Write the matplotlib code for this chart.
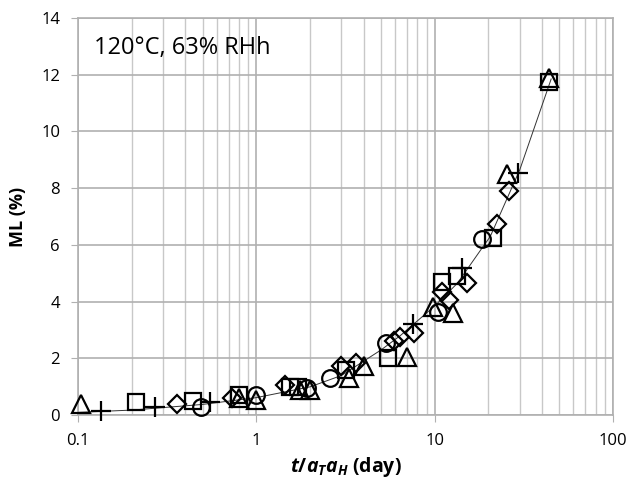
import matplotlib
matplotlib.use('Agg')
import matplotlib.pyplot as plt
from matplotlib.ticker import LogLocator, FixedLocator, NullFormatter

plt.rcParams['font.family'] = ['Open Sans', 'DejaVu Sans']
plt.rcParams['mathtext.fontset'] = 'custom'
plt.rcParams['mathtext.it'] = 'Open Sans:italic:bold'
plt.rcParams['mathtext.rm'] = 'Open Sans:bold'

# Data (x = t/aT aH in days, y = ML in %)
tri_x = [0.104, 0.8, 1.0, 1.75, 2.0, 3.3, 4.0, 7.0, 9.8, 12.7, 25.5, 44]
tri_y = [0.4, 0.6, 0.55, 0.9, 0.9, 1.3, 1.75, 2.05, 3.8, 3.6, 8.5, 11.9]

sq_x = [0.21, 0.44, 0.8, 1.55, 1.72, 3.2, 5.5, 11.0, 13.4, 21.3, 44]
sq_y = [0.45, 0.5, 0.7, 1.0, 1.0, 1.6, 2.0, 4.7, 4.9, 6.25, 11.75]

circ_x = [0.49, 1.0, 1.93, 2.6, 5.3, 10.5, 18.5]
circ_y = [0.3, 0.72, 0.95, 1.3, 2.55, 3.65, 6.2]

dia_x = [0.36, 0.73, 1.45, 2.97, 3.6, 5.9, 6.4, 7.7, 11.0, 12.0, 15.2, 22.5, 26.0]
dia_y = [0.4, 0.6, 1.05, 1.75, 1.85, 2.6, 2.75, 2.9, 4.35, 4.05, 4.65, 6.75, 7.9]

plus_x = [0.135, 0.27, 0.55, 7.6, 14.3, 29.5]
plus_y = [0.15, 0.28, 0.45, 3.2, 5.2, 8.55]

# fitted curve, points
curve_x = [0.1, 0.2, 0.5, 1, 2, 3, 5, 6.4, 10, 13.4, 18, 20.5, 30, 45]
curve_y = [0.1, 0.18, 0.38, 0.62, 1.0, 1.4, 2.3, 2.8, 3.85, 4.65, 5.8, 6.3, 8.65, 11.85]

fig = plt.figure(figsize=(6.3, 4.8), dpi=100)
ax = fig.add_axes([0.124, 0.135, 0.849, 0.8275])

ax.plot(curve_x, curve_y, color='#333333', lw=0.7, zorder=2)

mk = dict(ls='none', mfc='none', mec='black', mew=1.6, zorder=3, clip_on=False)
ax.plot(tri_x, tri_y, marker='^', ms=13, **mk)
ax.plot(sq_x, sq_y, marker='s', ms=12, **mk)
ax.plot(circ_x, circ_y, marker='o', ms=12, **mk)
ax.plot(dia_x, dia_y, marker='D', ms=9, **mk)
ax.plot(plus_x, plus_y, marker='+', ms=14, **mk)

ax.set_xscale('log')
ax.set_xlim(0.1, 100)
ax.set_ylim(0, 14)
ax.yaxis.set_major_locator(FixedLocator([0, 2, 4, 6, 8, 10, 12, 14]))
ax.xaxis.set_minor_locator(LogLocator(base=10, subs=range(2, 10)))
ax.xaxis.set_minor_formatter(NullFormatter())
ax.set_xticks([0.1, 1, 10, 100])
ax.set_xticklabels(['0.1', '1', '10', '100'])

ax.grid(True, which='major', color='#b0b0b0', lw=1.2)
ax.grid(True, which='minor', axis='x', color='#c8c8c8', lw=1.0)
ax.set_axisbelow(True)
for s in ax.spines.values():
    s.set_color('#b0b0b0')
    s.set_linewidth(1.2)
ax.tick_params(which='major', length=5, color='#b0b0b0', labelsize=12, pad=8)
ax.tick_params(which='minor', length=0)

ax.set_ylabel('ML (%)', fontsize=13, fontweight='bold', labelpad=10)
ax.set_xlabel(r'$t/a_Ta_H$ (day)', fontsize=14, fontweight='bold')

ax.text(0.03, 0.955, '120°C, 63% RHh', transform=ax.transAxes, fontsize=17,
        va='top', ha='left')

fig.savefig('out.png', dpi=100)
